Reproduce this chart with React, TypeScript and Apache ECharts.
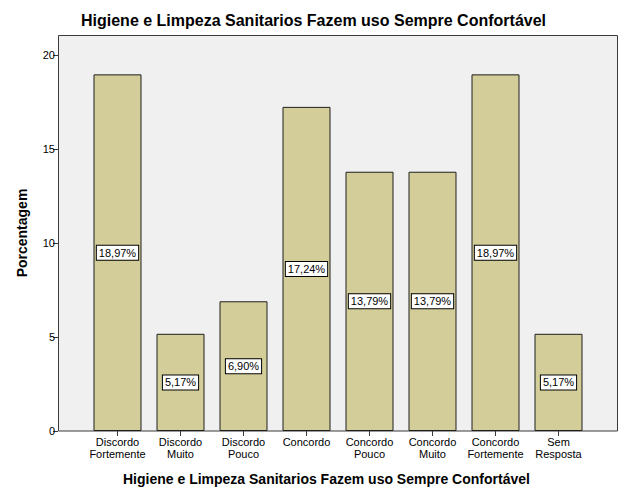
import React, { useEffect, useRef } from "react";
import * as echarts from "echarts";

const categories = [
  "Discordo\nFortemente",
  "Discordo\nMuito",
  "Discordo\nPouco",
  "Concordo",
  "Concordo\nPouco",
  "Concordo\nMuito",
  "Concordo\nFortemente",
  "Sem\nResposta",
];
const percentages = [18.97, 5.17, 6.9, 17.24, 13.79, 13.79, 18.97, 5.17];
const yTicks = [0, 5, 10, 15, 20];
const chartTitle = "Higiene e Limpeza Sanitarios Fazem uso Sempre Confortável";
const xTitle = "Higiene e Limpeza Sanitarios Fazem uso Sempre Confortável";
const yTitle = "Porcentagem";

const FONT = "Liberation Sans, Arial, sans-serif";

export default function App() {
  const ref = useRef<HTMLDivElement>(null);
  useEffect(() => {
    if (!ref.current) return;
    const chart = echarts.init(ref.current, undefined, { renderer: "svg" });
    chart.setOption({
      animation: false,
      backgroundColor: "#ffffff",
      textStyle: { fontFamily: FONT },
      grid: { left: 86, right: 36, top: 55, bottom: 70 },
      graphic: [
        {
          type: "rect",
          z: -10,
          shape: { x: 58.5, y: 35.5, width: 559, height: 395.5 },
          style: { fill: "#f0f0f0", stroke: "#3a3a3a", lineWidth: 1 },
        },
        {
          type: "text",
          left: 81,
          top: 12,
          style: {
            text: chartTitle,
            font: `bold 16px ${FONT}`,
            fill: "#000",
          },
        },
        {
          type: "text",
          left: 123,
          top: 472,
          style: {
            text: xTitle,
            font: `bold 14px ${FONT}`,
            fill: "#000",
          },
        },
        {
          type: "text",
          x: 22,
          y: 233,
          rotation: Math.PI / 2,
          style: {
            text: yTitle,
            font: `bold 14px ${FONT}`,
            fill: "#000",
            align: "center",
            verticalAlign: "middle",
          },
        },
      ],
      xAxis: {
        type: "category",
        data: categories,
        axisLine: { show: false },
        axisTick: {
          show: true,
          alignWithLabel: true,
          interval: 0,
          length: 5,
          lineStyle: { color: "#3a3a3a" },
        },
        axisLabel: {
          interval: 0,
          margin: 5,
          color: "#000",
          fontSize: 11,
          fontFamily: FONT,
          lineHeight: 12,
        },
      },
      yAxis: {
        type: "value",
        min: 0,
        max: 20,
        interval: 5,
        offset: 28,
        splitLine: { show: false },
        axisLine: { show: false },
        axisTick: { show: true, length: 5, lineStyle: { color: "#3a3a3a" } },
        axisLabel: {
          color: "#000",
          fontSize: 11,
          fontFamily: FONT,
          margin: 3,
          formatter: (v: number) => (yTicks.includes(v) ? String(v) : ""),
        },
      },
      series: [
        {
          type: "bar",
          data: percentages,
          barWidth: 48,
          itemStyle: {
            color: "#d3ce99",
            borderColor: "#1e1e1e",
            borderWidth: 1,
          },
          label: {
            show: true,
            position: "inside",
            color: "#000",
            fontSize: 11,
            fontFamily: FONT,
            backgroundColor: "#ffffff",
            borderColor: "#000",
            borderWidth: 1,
            padding: [2, 2, 1, 2],
            formatter: (p: any) =>
              p.value.toFixed(2).replace(".", ",") + "%",
          },
        },
      ],
    });
    return () => chart.dispose();
  }, []);
  return <div ref={ref} style={{ width: 626, height: 501, margin: -8 }} />;
}
